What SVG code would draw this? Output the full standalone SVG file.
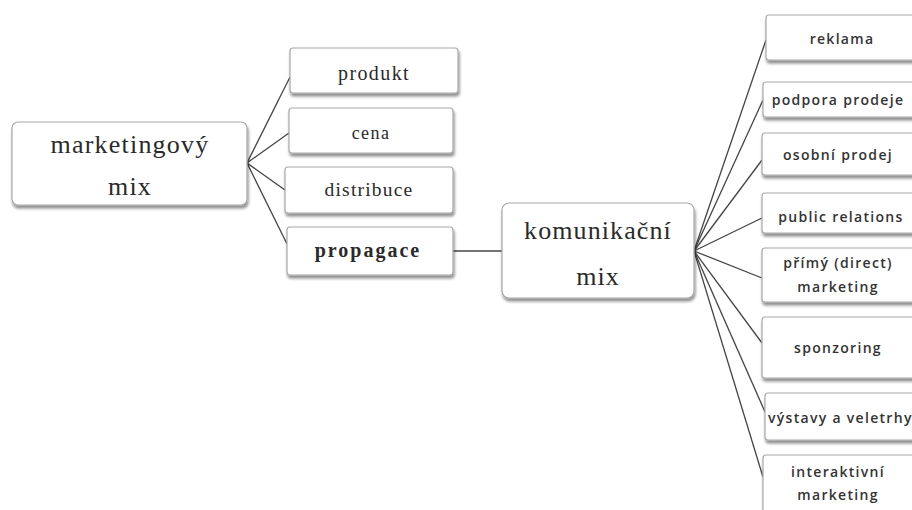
<svg xmlns="http://www.w3.org/2000/svg" width="912" height="510" viewBox="0 0 912 510">
<defs>
<filter id="sh" x="-10%" y="-10%" width="130%" height="140%">
<feGaussianBlur in="SourceAlpha" stdDeviation="1.5"/>
<feOffset dx="1" dy="3" result="b"/>
<feComponentTransfer><feFuncA type="linear" slope="0.45"/></feComponentTransfer>
<feMerge><feMergeNode/><feMergeNode in="SourceGraphic"/></feMerge>
</filter>
</defs>
<style>
.box{fill:#fff;stroke:#a8a8a8;stroke-width:1.2;filter:url(#sh)}
.ser{font-family:"Liberation Serif","DejaVu Serif",serif;fill:#2a2a2a;text-anchor:middle}
.san{font-family:"Open Sans","Liberation Sans",sans-serif;fill:#333;text-anchor:middle;font-size:14px;font-weight:600;letter-spacing:1.3px}
.con{stroke:#444;stroke-width:1.3;fill:none}
</style>
<rect width="912" height="510" fill="#fff"/>
<g id="connectors">
<line class="con" x1="247" y1="163" x2="290" y2="77"/>
<line class="con" x1="247" y1="163" x2="289" y2="133"/>
<line class="con" x1="247" y1="163" x2="285" y2="190"/>
<line class="con" x1="247" y1="163" x2="287" y2="244"/>
<line class="con" x1="453" y1="251" x2="502" y2="251"/>
<line class="con" x1="694" y1="251" x2="766" y2="40"/>
<line class="con" x1="694" y1="251" x2="763" y2="100"/>
<line class="con" x1="694" y1="251" x2="762" y2="160"/>
<line class="con" x1="694" y1="251" x2="762" y2="218"/>
<line class="con" x1="694" y1="251" x2="762" y2="278"/>
<line class="con" x1="694" y1="251" x2="762" y2="343"/>
<line class="con" x1="694" y1="251" x2="765" y2="412"/>
<line class="con" x1="694" y1="251" x2="763" y2="477"/>
</g>
<g id="marketingovy-mix">
<rect class="box" x="12" y="122" width="235" height="83" rx="6"/>
<text class="ser" x="130" y="153" font-size="26" letter-spacing="1.2">marketingový</text>
<text class="ser" x="130" y="195" font-size="26" letter-spacing="1.2">mix</text>
</g>
<g id="produkt">
<rect class="box" x="290" y="48" width="168" height="45" rx="3"/>
<text class="ser" x="374" y="80" font-size="20" letter-spacing="1.4">produkt</text>
</g>
<g id="cena">
<rect class="box" x="289" y="108" width="164" height="45" rx="3"/>
<text class="ser" x="371" y="139" font-size="18" letter-spacing="1.4">cena</text>
</g>
<g id="distribuce">
<rect class="box" x="285" y="167" width="168" height="46" rx="3"/>
<text class="ser" x="369" y="196" font-size="19.5" letter-spacing="1.2">distribuce</text>
</g>
<g id="propagace">
<rect class="box" x="287" y="227" width="166" height="48" rx="3"/>
<text class="ser" x="368" y="257" font-size="20" font-weight="bold" letter-spacing="2">propagace</text>
</g>
<g id="komunikacni-mix">
<rect class="box" x="502" y="203" width="192" height="95" rx="7"/>
<text class="ser" x="598" y="239" font-size="26" letter-spacing="1.1">komunikační</text>
<text class="ser" x="598" y="285" font-size="26" letter-spacing="1.1">mix</text>
</g>
<g id="reklama">
<rect class="box" x="766" y="15" width="160" height="45" rx="3"/>
<text class="san" x="842" y="44">reklama</text>
</g>
<g id="podpora-prodeje">
<rect class="box" x="763" y="82" width="163" height="35" rx="3"/>
<text class="san" x="838" y="105">podpora prodeje</text>
</g>
<g id="osobni-prodej">
<rect class="box" x="762" y="133" width="164" height="42" rx="3"/>
<text class="san" x="838" y="160">osobní prodej</text>
</g>
<g id="public-relations">
<rect class="box" x="762" y="193" width="164" height="40" rx="3"/>
<text class="san" x="841" y="222">public relations</text>
</g>
<g id="primy-marketing">
<rect class="box" x="762" y="248" width="164" height="54" rx="3"/>
<text class="san" x="838" y="268">přímý (direct)</text>
<text class="san" x="838" y="292">marketing</text>
</g>
<g id="sponzoring">
<rect class="box" x="762" y="317" width="164" height="61" rx="3"/>
<text class="san" x="838" y="353">sponzoring</text>
</g>
<g id="vystavy">
<rect class="box" x="765" y="393" width="161" height="47" rx="3"/>
<text class="san" x="768" y="423" style="text-anchor:start">výstavy a veletrhy</text>
</g>
<g id="interaktivni-marketing">
<rect class="box" x="763" y="455" width="163" height="70" rx="3"/>
<text class="san" x="838" y="477">interaktivní</text>
<text class="san" x="838" y="500">marketing</text>
</g>
</svg>
